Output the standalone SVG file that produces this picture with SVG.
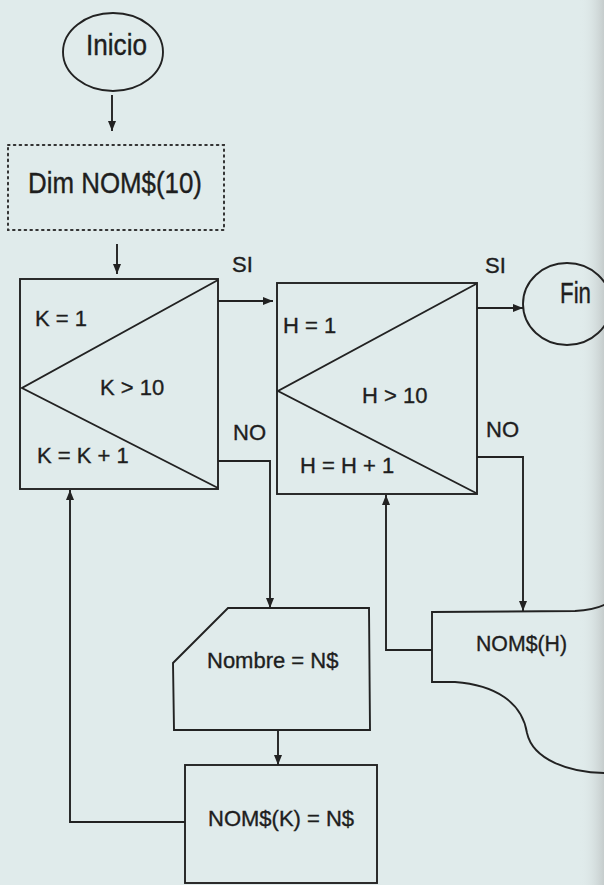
<svg xmlns="http://www.w3.org/2000/svg" width="604" height="885" viewBox="0 0 604 885">
  <style>
    .bg { fill: #e0ebeb; }
    .shape { fill: none; stroke: #222222; stroke-width: 1.9; stroke-linejoin: miter; }
    .dotted { fill: none; stroke: #333333; stroke-width: 2; stroke-dasharray: 1.6 4.2; stroke-linecap: round; }
    .conn { fill: none; stroke: #222222; stroke-width: 1.9; }
    .t { font-family: "Liberation Sans", Arial, sans-serif; font-size: 22px; fill: #1e1e1e; stroke: #1e1e1e; stroke-width: 0.35; }
    .tb { font-family: "Liberation Sans", Arial, sans-serif; font-size: 30px; fill: #1e1e1e; stroke: #1e1e1e; stroke-width: 0.4; }
  </style>
  <defs>
    <marker id="arrow" markerUnits="userSpaceOnUse" markerWidth="12" markerHeight="10" refX="10" refY="4" orient="auto">
      <path d="M0,0 L10,4 L0,8 Z" fill="#222222"/>
    </marker>
    <linearGradient id="edge" x1="0" y1="0" x2="1" y2="0">
      <stop offset="0" stop-color="#e0ebeb" stop-opacity="0"/>
      <stop offset="1" stop-color="#c5cccc" stop-opacity="1"/>
    </linearGradient>
  </defs>
  <rect class="bg" x="0" y="0" width="604" height="885"/>
  <rect x="580" y="0" width="24" height="885" fill="url(#edge)"/>

  <g id="connectors">
    <line class="conn" x1="112" y1="95" x2="112" y2="131" marker-end="url(#arrow)"/>
    <line class="conn" x1="117" y1="244" x2="117" y2="274" marker-end="url(#arrow)"/>
    <line class="conn" x1="218" y1="301" x2="273" y2="301" marker-end="url(#arrow)"/>
    <polyline class="conn" points="218,461 270,461 270,608" marker-end="url(#arrow)"/>
    <line class="conn" x1="278" y1="731" x2="278" y2="765" marker-end="url(#arrow)"/>
    <polyline class="conn" points="185,822 70,822 70,490" marker-end="url(#arrow)"/>
    <line class="conn" x1="477" y1="308" x2="523" y2="308" marker-end="url(#arrow)"/>
    <polyline class="conn" points="477,457 523,457 523,611" marker-end="url(#arrow)"/>
    <polyline class="conn" points="432,650 386,650 386,495" marker-end="url(#arrow)"/>
    <text class="t" x="232" y="272">SI</text>
    <text class="t" x="233" y="440">NO</text>
    <text class="t" x="485" y="273">SI</text>
    <text class="t" x="486" y="437">NO</text>
  </g>

  <g id="inicio">
    <ellipse class="shape" cx="113" cy="52" rx="50" ry="39"/>
    <text class="tb" x="86" y="55" textLength="61" lengthAdjust="spacingAndGlyphs">Inicio</text>
  </g>

  <g id="dim">
    <rect class="dotted" x="8" y="145" width="216" height="85"/>
    <text class="tb" x="28" y="193" textLength="174" lengthAdjust="spacingAndGlyphs">Dim NOM$(10)</text>
  </g>

  <g id="loopK">
    <rect class="shape" x="20" y="279" width="198" height="210"/>
    <polyline class="shape" points="218,280 22,388 218,488"/>
    <text class="t" x="35" y="326">K = 1</text>
    <text class="t" x="100" y="395">K &gt; 10</text>
    <text class="t" x="37" y="463">K = K + 1</text>
  </g>

  <g id="loopH">
    <rect class="shape" x="277" y="283" width="200" height="211"/>
    <polyline class="shape" points="476,284 278,391 476,493"/>
    <text class="t" x="283" y="333">H = 1</text>
    <text class="t" x="362" y="403">H &gt; 10</text>
    <text class="t" x="300" y="473">H = H + 1</text>
  </g>

  <g id="fin">
    <ellipse class="shape" cx="567" cy="304" rx="44" ry="41"/>
    <text class="tb" x="560" y="303" textLength="31" lengthAdjust="spacingAndGlyphs">Fin</text>
  </g>

  <g id="nombre">
    <polygon class="shape" points="228,608 369,608 370,730 174,730 173,663"/>
    <text class="t" x="207" y="668">Nombre = N$</text>
  </g>

  <g id="asignar">
    <rect class="shape" x="185" y="765" width="192" height="118"/>
    <text class="t" x="208" y="826">NOM$(K) = N$</text>
  </g>

  <g id="imprimir">
    <path class="shape" d="M606,604 Q595,610 575,611 L432,612 L432,682 L455,682 C495,685 522,702 527,733 C533,760 570,773 606,773"/>
    <text class="t" x="476" y="651" textLength="91" lengthAdjust="spacingAndGlyphs">NOM$(H)</text>
  </g>
</svg>
